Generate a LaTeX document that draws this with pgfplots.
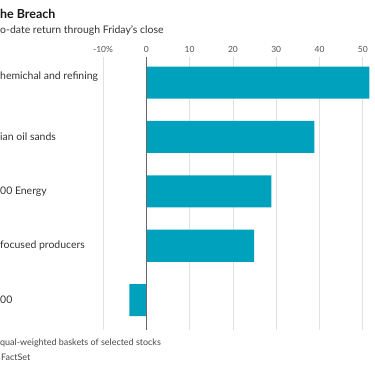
\documentclass[border=0pt]{standalone}
\usepackage{pgfplots}
\pgfplotsset{compat=1.18}
\usepackage{fontspec}
\setmainfont{Lato}
\definecolor{barc}{RGB}{0,161,188}
\definecolor{txt}{RGB}{51,51,51}
\definecolor{gridc}{RGB}{225,225,225}
\begin{document}
\begin{tikzpicture}[x=1bp,y=1bp]
\useasboundingbox (0,0) rectangle (375,-366);
\node[anchor=base west,inner sep=0,font=\fontsize{12.5}{14}\selectfont\bfseries,text=black!90] at (0,-18) {he Breach};
\node[anchor=base west,inner sep=0,font=\fontsize{10.5}{12}\selectfont,text=txt] at (0,-33) {o-date return through Friday’s close};
\node[anchor=base west,inner sep=0,font=\fontsize{9}{11}\selectfont,text=txt!90] at (0,-345) {qual-weighted baskets of selected stocks};
\node[anchor=base west,inner sep=0,font=\fontsize{9}{11}\selectfont,text=txt!90] at (1,-360) {FactSet};
\begin{axis}[
  at={(103bp,-57bp)}, anchor=north west,
  scale only axis, width=272bp, height=273bp,
  xmin=-10, xmax=52.8, ymin=-0.47, ymax=4.55,
  y dir=reverse,
  xbar, bar width=0.59,
  axis line style={draw=none},
  major tick length=0pt,
  xtick={-10,0,10,20,30,40,50},
  xticklabels={-10\%,0,10,20,30,40,50},
  xticklabel pos=upper,
  xticklabel style={font=\fontsize{8.5}{10}\selectfont, text=txt!85, inner sep=0pt, anchor=south, yshift=4bp},
  xmajorgrids, grid style={gridc, line width=0.8bp},
  ytick={0,1,2,3,4},
  yticklabels={{hemichal and refining\\\phantom{x}},ian oil sands,00 Energy,focused producers,00},
  yticklabel style={font=\fontsize{10.5}{13}\selectfont, text=txt, anchor=west, align=left, inner sep=0pt, xshift=-103bp},
]
\addplot[fill=barc, draw=none] coordinates {(51.5,0) (38.8,1) (28.9,2) (24.9,3) (-3.9,4)};
\draw[black!60, line width=1bp] (axis cs:0,-0.47) -- (axis cs:0,4.55);
\end{axis}
\end{tikzpicture}
\end{document}
